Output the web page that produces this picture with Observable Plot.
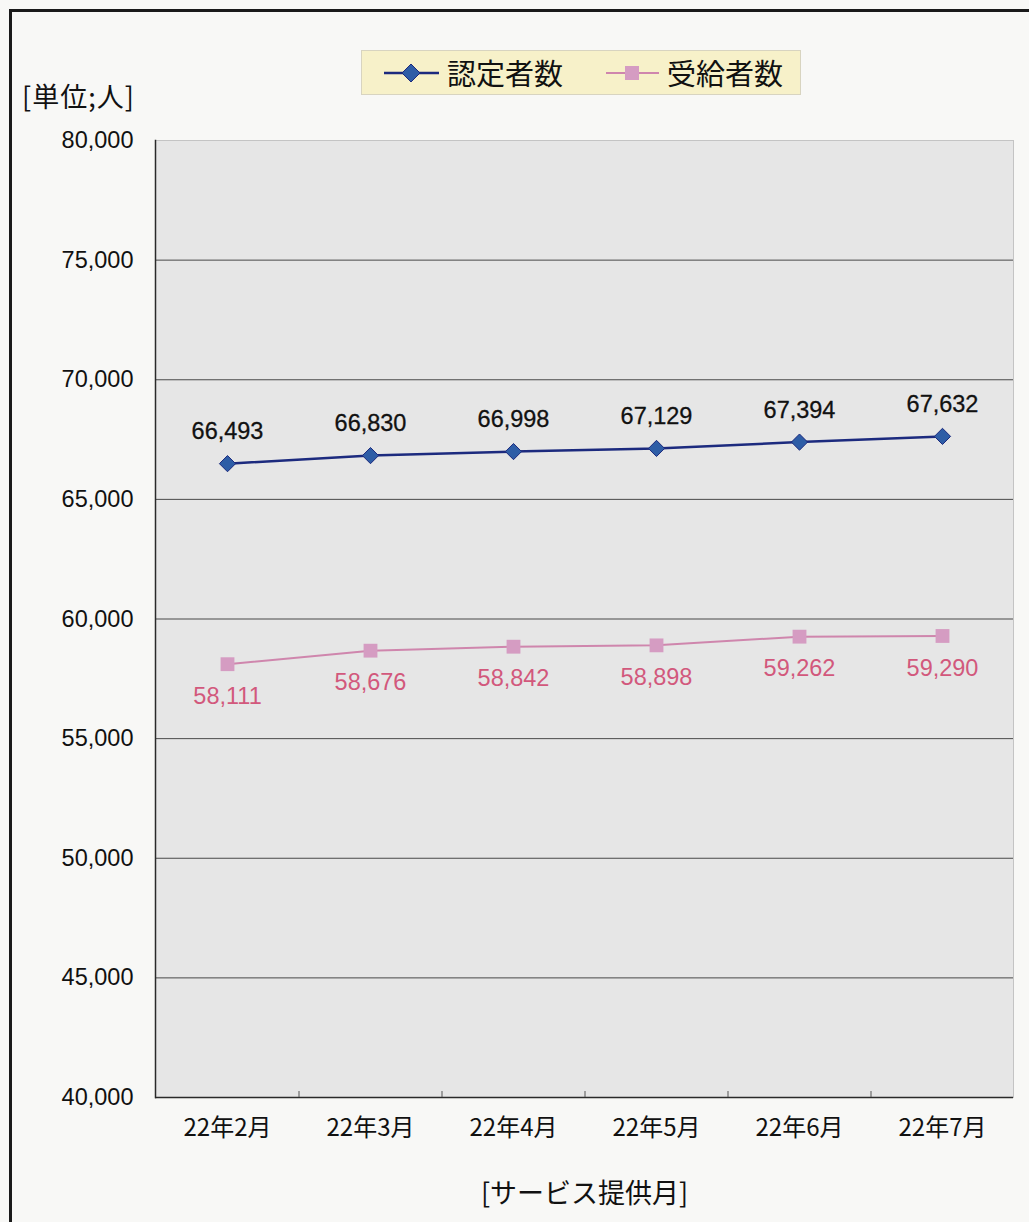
<!DOCTYPE html>
<html>
<head>
<meta charset="utf-8">
<script src="https://cdn.jsdelivr.net/npm/d3@7"></script>
<script src="https://cdn.jsdelivr.net/npm/@observablehq/plot@0.6"></script>
<style>
  html, body { margin: 0; padding: 0; background: #f8f8f6; }
  body { width: 1029px; height: 1222px; position: relative; overflow: hidden;
         font-family: "Liberation Sans", "Noto Sans CJK JP", sans-serif; color: #111; }
  #frame { position: absolute; left: 9px; top: 9px; width: 1100px; height: 1300px;
           border-left: 3px solid #1a1a1a; border-top: 3px solid #1a1a1a; }
  #unit { position: absolute; left: 22px; top: 76px; font-size: 27px; letter-spacing: 1px;
          font-family: "Noto Sans CJK JP", sans-serif; }
  #legend { position: absolute; left: 361px; top: 50px; width: 440px; height: 45px;
            background: #f7f1c9; border: 1px solid #d8d4c0; box-sizing: border-box; }
  #legend svg { position: absolute; left: 0; top: 0; }
  .lg { position: absolute; top: 1px; font-size: 29px; font-family: "Noto Sans CJK JP", sans-serif; line-height: 40px; }
  #chart { position: absolute; left: 0; top: 120px; }
</style>
</head>
<body>
<div id="frame"></div>
<div id="unit">[単位;人]</div>
<div id="legend"></div>
<div id="chart"></div>
<script>
const months = ["22年2月", "22年3月", "22年4月", "22年5月", "22年6月", "22年7月"];
const ninteisha = [66493, 66830, 66998, 67129, 67394, 67632];
const jukyusha = [58111, 58676, 58842, 58898, 59262, 59290];
const seriesNames = ["認定者数", "受給者数"];
const yTicks = [40000, 45000, 50000, 55000, 60000, 65000, 70000, 75000, 80000];
const xLabel = "[サービス提供月]";

const blueLine = "#1c2a7e", blueFill = "#2e5da6";
const pinkLine = "#cf86ad", pinkFill = "#d59cc2", pinkText = "#d2587c";

const rowsA = months.map((m, i) => ({month: m, value: ninteisha[i]}));
const rowsB = months.map((m, i) => ({month: m, value: jukyusha[i]}));

// legend
const lg = document.getElementById("legend");
lg.innerHTML = `
<svg width="440" height="45">
  <line x1="22" x2="77" y1="22" y2="22" stroke="${blueLine}" stroke-width="2.5"/>
  <path d="M49,13 L58,22 L49,31 L40,22 Z" fill="${blueFill}" stroke="${blueLine}" stroke-width="1"/>
  <line x1="244" x2="297" y1="22" y2="22" stroke="${pinkLine}" stroke-width="1.8"/>
  <rect x="263" y="15" width="14" height="14" fill="${pinkFill}"/>
</svg>
<div class="lg" style="left:85px">${seriesNames[0]}</div>
<div class="lg" style="left:305px">${seriesNames[1]}</div>`;

const W = 1029, H = 1102;
const mL = 155, mR = 16, mT = 20, mB = 125;
const step = (W - mL - mR) / months.length;

const fmt = d3.format(",");

const chart = Plot.plot({
  width: W,
  height: H,
  marginLeft: mL,
  marginRight: mR,
  marginTop: mT,
  marginBottom: mB,
  style: {fontFamily: "'Liberation Sans', 'Noto Sans CJK JP', sans-serif", background: "transparent", color: "#111"},
  x: {type: "point", domain: months, padding: 0.5, align: 0.5},
  y: {domain: [40000, 80000]},
  marks: [
    Plot.frame({fill: "#e6e6e6", stroke: "#c4c4c4"}),
    Plot.gridY({ticks: yTicks.slice(1, -1), stroke: "#2e2e2e", strokeOpacity: 0.85, strokeWidth: 1}),
    Plot.ruleY([40000], {stroke: "#2a2a2a", strokeWidth: 1.5}),
    Plot.frame({anchor: "left", stroke: "#2a2a2a", strokeWidth: 1.5}),
    Plot.ruleX(months.slice(1), {x: d => d, dx: -step / 2, y1: 40000, y2: 40250, stroke: "#555"}),
    Plot.axisY({ticks: yTicks, tickFormat: fmt, tickSize: 0, tickPadding: 22, fontSize: 23.5, label: null}),
    Plot.axisX({tickSize: 0, tickPadding: 21, fontSize: 24, label: null, fontFamily: "'Noto Sans CJK JP', sans-serif"}),
    Plot.line(rowsB, {x: "month", y: "value", stroke: pinkLine, strokeWidth: 2}),
    Plot.dot(rowsB, {x: "month", y: "value", symbol: "square", r: 7.8, fill: pinkFill, stroke: "none"}),
    Plot.text(rowsB, {x: "month", y: "value", text: d => fmt(d.value), dy: 32, fill: pinkText, fontSize: 23.5}),
    Plot.line(rowsA, {x: "month", y: "value", stroke: blueLine, strokeWidth: 2.5}),
    Plot.dot(rowsA, {x: "month", y: "value", symbol: "diamond2", r: 7.3, fill: blueFill, stroke: blueLine, strokeWidth: 1}),
    Plot.text(rowsA, {x: "month", y: "value", text: d => fmt(d.value), dy: -32, fill: "#111", fontSize: 23.5, stroke: "#111", strokeWidth: 0.3}),
    Plot.text([xLabel], {frameAnchor: "bottom", dy: 105, fontSize: 27, fill: "#111", fontFamily: "'Noto Sans CJK JP', sans-serif"})
  ]
});
document.getElementById("chart").appendChild(chart);
</script>
</body>
</html>
